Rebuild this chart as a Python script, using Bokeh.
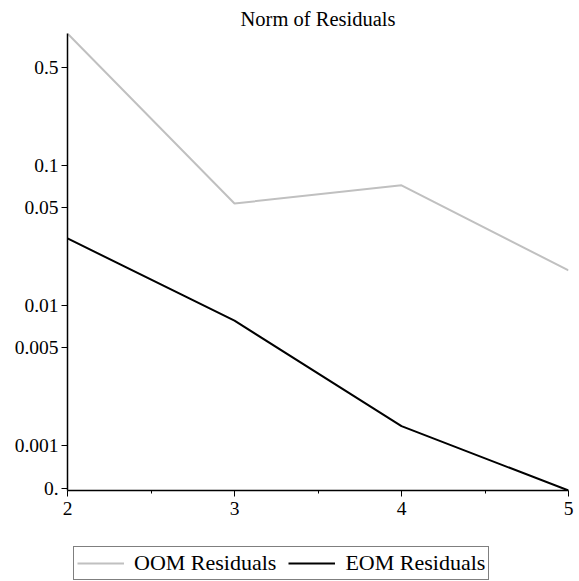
from bokeh.plotting import figure
from bokeh.models import Range1d, FixedTicker, Legend, LegendItem, ColumnDataSource
from bokeh.layouts import column
from bokeh.embed import file_html
from bokeh.resources import INLINE

# data
n_values = [2, 3, 4, 5]
oom_residuals = [0.87, 0.0534, 0.072, 0.0178]
eom_residuals = [0.0301, 0.0078, 0.00138, 0.00048]
series_names = ["OOM Residuals", "EOM Residuals"]
title_text = "Norm of Residuals"
x_ticks = [2, 3, 4, 5]
x_minor_ticks = [2.5, 3.5, 4.5]
y_ticks = [0.0005, 0.001, 0.005, 0.01, 0.05, 0.1, 0.5]
y_tick_labels = ["0.", "0.001", "0.005", "0.01", "0.05", "0.1", "0.5"]

FONT = "Liberation Serif"
OOM_COLOR = "#c0c0c0"
EOM_COLOR = "black"

all_vals = oom_residuals + eom_residuals
src = ColumnDataSource(dict(x=n_values, oom=oom_residuals, eom=eom_residuals))

p = figure(
    width=579, height=540,
    x_range=Range1d(min(n_values), max(n_values)),
    y_range=Range1d(min(all_vals), max(all_vals)),
    y_axis_type="log",
    output_backend="svg", toolbar_location=None,
    min_border_left=67, min_border_right=11, min_border_top=33, min_border_bottom=50,
)
p.title.text = title_text
p.title.align = "center"
p.title.text_font = FONT
p.title.text_font_size = "20.5px"
p.title.text_font_style = "normal"
p.title.text_color = "black"
p.title.offset = 0
p.title.standoff = 8

p.line("x", "oom", source=src, line_color=OOM_COLOR, line_width=2)
p.line("x", "eom", source=src, line_color=EOM_COLOR, line_width=2)

p.grid.visible = False
p.outline_line_color = None

xa = p.xaxis[0]
xa.ticker = FixedTicker(ticks=x_ticks, minor_ticks=x_minor_ticks)
xa.major_label_text_font = FONT
xa.major_label_text_font_size = "19.5px"
xa.major_label_text_color = "black"
xa.major_tick_in = 0
xa.major_tick_out = 6
xa.minor_tick_in = 0
xa.minor_tick_out = 3
xa.axis_line_width = 1.5
xa.major_label_standoff = 5

ya = p.yaxis[0]
ya.ticker = FixedTicker(ticks=y_ticks)
ya.major_label_overrides = {t: l for t, l in zip(y_ticks, y_tick_labels)}
ya.major_label_text_font = FONT
ya.major_label_text_font_size = "19.5px"
ya.major_label_text_color = "black"
ya.major_tick_in = 0
ya.major_tick_out = 6
ya.minor_tick_line_color = None
ya.axis_line_width = 1.5
ya.major_label_standoff = 3

# legend strip below the chart (lines kept out of view, only used by the legend)
q = figure(
    width=579, height=41,
    x_range=Range1d(100, 101), y_range=Range1d(100, 101),
    x_axis_type=None, y_axis_type=None,
    output_backend="svg", toolbar_location=None,
    min_border_left=0, min_border_right=0, min_border_top=0, min_border_bottom=0,
)
q.grid.visible = False
q.outline_line_color = None
l1 = q.line("x", "oom", source=src, line_color=OOM_COLOR, line_width=2)
l2 = q.line("x", "eom", source=src, line_color=EOM_COLOR, line_width=2)

legend = Legend(
    items=[LegendItem(label=series_names[0], renderers=[l1]),
           LegendItem(label=series_names[1], renderers=[l2])],
    orientation="horizontal",
    location=(6, 1),
    label_text_font=FONT,
    label_text_font_size="22px",
    label_text_color="black",
    glyph_width=47,
    label_standoff=10,
    spacing=12,
    padding=3,
    margin=0,
    border_line_color="black",
    border_line_width=1,
    background_fill_alpha=0,
)
q.add_layout(legend)

layout = column(p, q, spacing=0)
open("out.html", "w").write(file_html(layout, INLINE))
